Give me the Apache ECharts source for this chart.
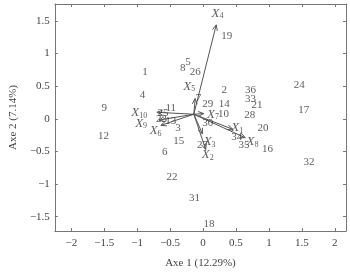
<!DOCTYPE html>
<html><head><meta charset="utf-8">
<script src="https://cdn.jsdelivr.net/npm/echarts@6/dist/echarts.min.js"></script>
<style>html,body{margin:0;padding:0;background:#fff}#c{width:350px;height:274px}</style>
</head><body><div id="c"></div>
<script>
// Observations (individuals)
const obsNames = ['1','2','3','4','5','6','7','8','9','10','11','12','13','14','15','16','17','18','19','20','21','22','23','24','25','26','27','28','29','30','31','32','33','34','35','36'];
const obsX = [-0.88,0.32,-0.38,-0.92,-0.23,-0.58,-0.07,-0.31,-1.50,0.31,-0.49,-1.51,-0.49,0.32,-0.37,0.98,1.53,0.09,0.36,0.91,0.82,-0.47,-0.63,1.46,-0.61,-0.12,-0.01,0.71,0.07,0.07,-0.13,1.61,0.72,0.51,0.62,0.72];
const obsY = [0.71,0.44,-0.14,0.37,0.87,-0.51,0.31,0.78,0.16,0.07,0.16,-0.27,-0.03,0.23,-0.34,-0.46,0.14,-1.62,1.27,-0.15,0.21,-0.89,-0.01,0.51,0.08,0.72,-0.40,0.06,0.23,-0.07,-1.21,-0.66,0.30,-0.28,-0.40,0.44];

// Variables (arrows)
const varIdx = ['1','2','3','4','5','6','7','8','9','10'];
const varX = [0.45,0.04,-0.01,0.20,-0.12,-0.64,0.01,0.64,-0.67,-0.70];
const varY = [-0.16,-0.47,-0.23,1.44,0.31,-0.10,0.08,-0.29,-0.02,0.10];
const varLabelX = [0.52,0.07,0.10,0.22,-0.21,-0.72,0.15,0.75,-0.94,-0.97];
const varLabelY = [-0.14,-0.55,-0.35,1.62,0.50,-0.18,0.07,-0.35,-0.07,0.09];
const arrowOrigin = [-0.14, 0.07];

const xTicks = [-2,-1.5,-1,-0.5,0,0.5,1,1.5,2];
const yTicks = [-1.5,-1,-0.5,0,0.5,1,1.5];
const xTitle = 'Axe 1 (12.29%)';
const yTitle = 'Axe 2 (7.14%)';

const FONT = '"Liberation Serif","DejaVu Serif",serif';
const fmt = v => v < 0 ? '\u2212' + Math.abs(v) : String(v);
const axColor = '#777';

function axisX(main){
  return {
    type:'value', min:-2.25, max:2.17, position: main?'bottom':'top',
    axisLine:{show:true, onZero:false, lineStyle:{color:axColor}},
    axisTick:{show:true, inside:true, length:3, customValues:xTicks, lineStyle:{color:axColor}},
    axisLabel:{show:main, customValues:xTicks, formatter:fmt, margin:7, fontFamily:FONT, fontSize:11, color:'#444'},
    splitLine:{show:false},
    name: main? xTitle : '', nameLocation:'middle', nameGap:27,
    nameTextStyle:{fontFamily:FONT, fontSize:11, color:'#444'}
  };
}
function axisY(main){
  return {
    type:'value', min:-1.72, max:1.76, position: main?'left':'right',
    axisLine:{show:true, onZero:false, lineStyle:{color:axColor}},
    axisTick:{show:true, inside:true, length:3, customValues:yTicks, lineStyle:{color:axColor}},
    axisLabel:{show:main, customValues:yTicks, formatter:fmt, margin:5, fontFamily:FONT, fontSize:11, color:'#444'},
    splitLine:{show:false},
    name: main? yTitle : '', nameLocation:'middle', nameGap:34, nameRotate:90,
    nameTextStyle:{fontFamily:FONT, fontSize:11, color:'#444'}
  };
}

const obsData = obsNames.map((n,i)=>({name:n, value:[obsX[i], obsY[i]]}));
const arrowData = varIdx.map((n,i)=>[arrowOrigin[0], arrowOrigin[1], varX[i], varY[i]]);
const varLabData = varIdx.map((n,i)=>({name:n, value:[varLabelX[i], varLabelY[i]]}));

const chart = echarts.init(document.getElementById('c'), null, {renderer:'canvas'});
chart.setOption({
  animation:false,
  backgroundColor:'#fff',
  grid:{left:49, right:4, top:4, bottom:37, containLabel:false},
  xAxis:[axisX(true), axisX(false)],
  yAxis:[axisY(true), axisY(false)],
  series:[
    {
      type:'custom', xAxisIndex:0, yAxisIndex:0, data:arrowData, silent:true,
      renderItem(params, api){
        const p0 = api.coord([api.value(0), api.value(1)]);
        const p1 = api.coord([api.value(2), api.value(3)]);
        const ang = Math.atan2(p1[1]-p0[1], p1[0]-p0[0]);
        const L = 6, a = 0.42;
        const h1 = [p1[0]-L*Math.cos(ang-a), p1[1]-L*Math.sin(ang-a)];
        const h2 = [p1[0]-L*Math.cos(ang+a), p1[1]-L*Math.sin(ang+a)];
        return {type:'group', children:[
          {type:'line', shape:{x1:p0[0],y1:p0[1],x2:p1[0],y2:p1[1]}, style:{stroke:'#555', lineWidth:1}},
          {type:'polyline', shape:{points:[h1,p1,h2]}, style:{stroke:'#555', fill:null, lineWidth:1}}
        ]};
      }
    },
    {
      type:'scatter', data:obsData, symbolSize:1, itemStyle:{color:'rgba(0,0,0,0)'},
      label:{show:true, position:'inside', formatter:p=>p.name, fontFamily:FONT, fontSize:11, color:'#333'}
    },
    {
      type:'scatter', data:varLabData, symbolSize:1, itemStyle:{color:'rgba(0,0,0,0)'},
      label:{show:true, position:'inside', formatter:p=>'{x|X}{s|'+p.name+'}',
        rich:{
          x:{fontFamily:FONT, fontSize:13, fontStyle:'italic', color:'#333'},
          s:{fontFamily:FONT, fontSize:8, color:'#333', verticalAlign:'bottom', padding:[6,0,0,0]}
        }}
    }
  ]
});
</script></body></html>
